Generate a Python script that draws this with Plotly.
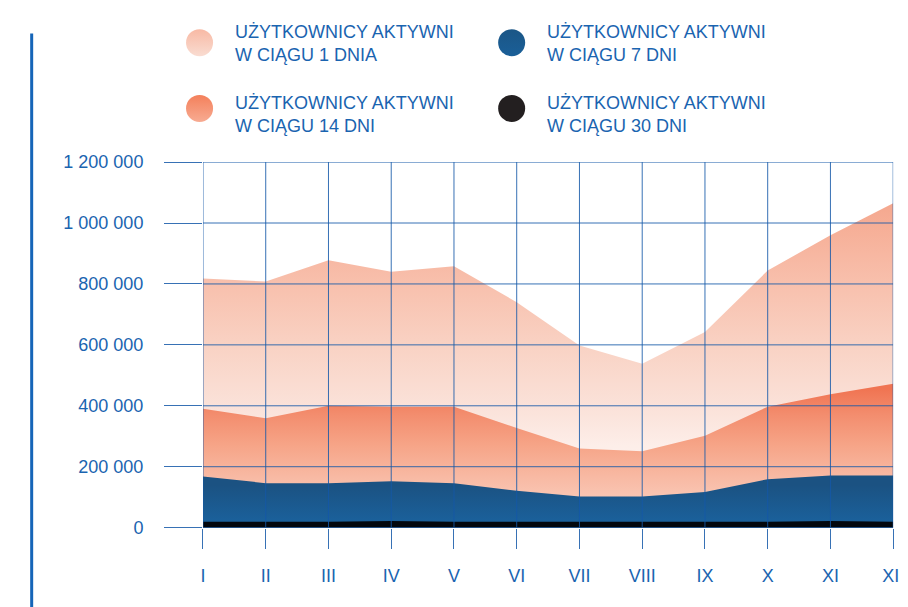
import plotly.graph_objects as go

months = ["I", "II", "III", "IV", "V", "VI", "VII", "VIII", "IX", "X", "XI", "XII"]
active_1d = [818000, 808000, 878000, 840000, 858000, 740000, 598000, 538000, 642000, 844000, 960000, 1065000]
active_14d = [390000, 359000, 400000, 397000, 397000, 327000, 260000, 251000, 302000, 397000, 438000, 472000]
active_7d = [168000, 146000, 146000, 152000, 146000, 121000, 102000, 102000, 117000, 159000, 171000, 171000]
active_30d = [19000, 19000, 19000, 22000, 19000, 19000, 19000, 19000, 19000, 19000, 22000, 19000]
y_ticks = [0, 200000, 400000, 600000, 800000, 1000000, 1200000]
y_tick_text = ["0", "200 000", "400 000", "600 000", "800 000", "1 000 000", "1 200 000"]
legend_lines = ["UŻYTKOWNICY AKTYWNI<br>W CIĄGU 1 DNIA",
                "UŻYTKOWNICY AKTYWNI<br>W CIĄGU 7 DNI",
                "UŻYTKOWNICY AKTYWNI<br>W CIĄGU 14 DNI",
                "UŻYTKOWNICY AKTYWNI<br>W CIĄGU 30 DNI"]

W, H = 908, 607
OFF = 8  # page body margin


def px(x):
    return (x - OFF) / W


def py(y):
    return 1 - (y - OFF) / H


BLUE = "#1a64b0"
GRID = "rgba(20,88,168,0.85)"
FONT = "Liberation Sans, Arial, sans-serif"
idx = list(range(len(months)))

fig = go.Figure()

series = [
    (active_1d, 1100000, [[0, "#fffaf8"], [0.27, "#fdeee9"], [0.36, "#fbe4dc"], [0.55, "#f9d3c5"],
                          [0.73, "#f8c1ae"], [0.91, "#f6ae96"], [1, "#f4a58b"]]),
    (active_14d, 480000, [[0, "#fbd6c9"], [0.31, "#f9c3b0"], [0.42, "#f8b9a3"], [0.63, "#f6a487"],
                          [0.83, "#f38d6e"], [1, "#f07452"]]),
    (active_7d, 175000, [[0, "#1a68a8"], [1, "#1b5282"]]),
    (active_30d, 22000, [[0, "#070b12"], [1, "#03070d"]]),
]
for vals, top, cs in series:
    fig.add_trace(go.Scatter(
        x=idx, y=vals, mode="lines", line=dict(width=0),
        fill="tozeroy",
        fillgradient=dict(type="vertical", colorscale=cs, start=0, stop=top),
        hoverinfo="skip", showlegend=False, xaxis="x", yaxis="y"))

# gridlines above the areas
shapes = []
for i in idx:
    shapes.append(dict(type="line", xref="x", yref="y", x0=i, x1=i, y0=0, y1=y_ticks[-1],
                       line=dict(color=GRID, width=1), layer="above"))
for v in y_ticks:
    shapes.append(dict(type="line", xref="x", yref="y", x0=idx[0], x1=idx[-1], y0=v, y1=v,
                       line=dict(color=GRID, width=1), layer="above"))
# left decorative vertical line
shapes.append(dict(type="line", xref="paper", yref="paper", x0=px(29), x1=px(29),
                   y0=py(24), y1=py(620), line=dict(color="#1565b8", width=3)))

# custom legend on an overlay axis in screen-pixel coordinates
leg_x = [199.5, 516.5, 199.5, 516.5]
leg_y = [33.5, 33.5, 101.5, 101.5]
leg_top = ["#f8b9a4", "#1b5686", "#f4805b", "#231f20"]
leg_bot = ["#f9dcd1", "#1a5f98", "#f7ab92", "#231f20"]
for x, y, ct, cb in zip(leg_x, leg_y, leg_top, leg_bot):
    fig.add_trace(go.Scatter(
        x=[x], y=[y], mode="markers",
        marker=dict(size=27, color=ct, line=dict(width=0),
                    gradient=dict(type="vertical", color=cb)),
        hoverinfo="skip", showlegend=False, xaxis="x2", yaxis="y2"))

annotations = []
text_x = [233, 550, 233, 550]
text_y = [34.4, 34.4, 107.4, 107.4]
for t, x, y in zip(legend_lines, text_x, text_y):
    annotations.append(dict(text=t, xref="paper", yref="paper", x=px(x), y=py(y),
                            xanchor="left", yanchor="middle", align="left", showarrow=False,
                            font=dict(family=FONT, size=18, color=BLUE)))

fig.update_layout(
    width=W, height=H,
    margin=dict(l=0, r=0, t=0, b=0),
    paper_bgcolor="white", plot_bgcolor="rgba(0,0,0,0)",
    showlegend=False,
    xaxis=dict(domain=[px(203), px(904)], range=[0, 11], tickvals=idx, ticktext=months,
               showgrid=False, zeroline=False, showline=False,
               ticks="outside", ticklen=20, tickwidth=1, tickcolor=GRID,
               ticklabelstandoff=12,
               tickfont=dict(family=FONT, size=18, color=BLUE), anchor="y"),
    yaxis=dict(domain=[py(535), py(157)], range=[0, 1200000], tickvals=y_ticks,
               ticktext=y_tick_text, showgrid=False, zeroline=False, showline=False,
               ticks="outside", ticklen=38, tickwidth=1, tickcolor=GRID,
               ticklabelstandoff=17,
               tickfont=dict(family=FONT, size=18, color=BLUE), anchor="x"),
    xaxis2=dict(domain=[0, 1], range=[OFF, W + OFF], visible=False, anchor="y2"),
    yaxis2=dict(domain=[0, 1], range=[H + OFF, OFF], visible=False, anchor="x2"),
    shapes=shapes,
    annotations=annotations,
)

fig.write_html("out.html")
